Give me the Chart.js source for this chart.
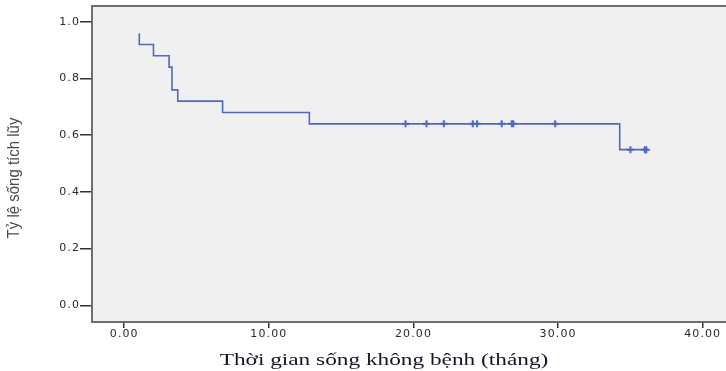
<!DOCTYPE html>
<html>
<head>
<meta charset="utf-8">
<script src="https://cdn.jsdelivr.net/npm/chart.js@4.4.1/dist/chart.umd.min.js"></script>
<style>
  html, body { margin: 0; padding: 0; background: #ffffff; overflow: hidden; }
  #c { display: block; }
</style>
</head>
<body>
<canvas id="c" width="726" height="371"></canvas>
<script>
// Kaplan-Meier step curve (event times, survival after each step)
const eventTimes = [1.04, 1.04, 2.02, 3.10, 3.30, 3.70, 6.80, 12.80, 34.26, 36.10];
const survival   = [0.96, 0.92, 0.88, 0.84, 0.76, 0.72, 0.68, 0.64, 0.549, 0.549];
// Censored observations
const censorTimes    = [19.45, 20.9, 22.1, 24.1, 24.4, 26.1, 26.8, 26.9, 29.8, 35.0, 36.0, 36.1];
const censorSurvival = [0.64, 0.64, 0.64, 0.64, 0.64, 0.64, 0.64, 0.64, 0.64, 0.549, 0.549, 0.549];
// Axis ticks and titles
const xTicks = [0, 10, 20, 30, 40];
const yTicks = [0, 0.2, 0.4, 0.6, 0.8, 1.0];
const xTitle = "Thời gian sống không bệnh (tháng)";
const yTitle = "Tỷ lệ sống tích lũy";

const lineColor = '#5068bd';
const axisColor = '#6e6e6e';

const framePlugin = {
  id: 'frame',
  beforeDraw(chart) {
    const { ctx, chartArea: a } = chart;
    ctx.save();
    ctx.fillStyle = '#f0f0f0';
    ctx.fillRect(a.left, a.top, a.right - a.left, a.bottom - a.top);
    ctx.strokeStyle = axisColor;
    ctx.lineWidth = 2;
    ctx.beginPath();
    ctx.moveTo(a.left, a.top);
    ctx.lineTo(a.right, a.top);
    ctx.stroke();
    ctx.restore();
    ctx.letterSpacing = '1.1px';
  },
  afterDraw(chart) {
    const { ctx } = chart;
    ctx.letterSpacing = '0px';
    // x title (serif, stretched like the original export)
    ctx.save();
    ctx.font = '17px "Liberation Serif", "Times New Roman", serif';
    ctx.fillStyle = '#15152a';
    ctx.textAlign = 'center';
    ctx.textBaseline = 'alphabetic';
    ctx.translate(384, 365);
    ctx.scale(1.37, 1);
    ctx.fillText(xTitle, 0, 0);
    ctx.restore();
    // y title (rotated)
    ctx.save();
    ctx.font = '15px "Liberation Sans Narrow", "Arial Narrow", "Liberation Sans", sans-serif';
    ctx.fillStyle = '#4a4a4a';
    ctx.textAlign = 'center';
    ctx.textBaseline = 'middle';
    ctx.translate(14, 178);
    ctx.scale(1.15, 1);
    ctx.rotate(-Math.PI / 2);
    ctx.fillText(yTitle, 0, 0);
    ctx.restore();
  }
};

new Chart(document.getElementById('c'), {
  type: 'scatter',
  data: {
    datasets: [
      {
        type: 'line',
        data: eventTimes.map((t, i) => ({ x: t, y: survival[i] })),
        borderColor: lineColor,
        borderWidth: 1.6,
        stepped: 'before',
        pointRadius: 0,
        fill: false,
        order: 2
      },
      {
        type: 'scatter',
        data: censorTimes.map((t, i) => ({ x: t, y: censorSurvival[i] })),
        pointStyle: 'cross',
        pointRadius: 3.5,
        borderColor: lineColor,
        backgroundColor: lineColor,
        borderWidth: 2,
        order: 1
      }
    ]
  },
  options: {
    responsive: false,
    animation: false,
    layout: { autoPadding: false, padding: { top: 6, right: 0, bottom: 0, left: 0 } },
    plugins: { legend: { display: false }, tooltip: { enabled: false } },
    scales: {
      x: {
        type: 'linear',
        min: -2.23,
        max: 41.61,
        afterBuildTicks: s => { s.ticks = xTicks.map(v => ({ value: v })); },
        afterFit: s => { s.height = 49; s.paddingRight = 0; s.paddingLeft = 0; },
        ticks: {
          callback: v => Number(v).toFixed(2),
          font: { family: '"DejaVu Sans", Verdana, sans-serif', size: 11 },
          color: '#2a2a2a',
          padding: 0,
          maxRotation: 0,
          autoSkip: false
        },
        grid: { drawOnChartArea: false, drawTicks: true, tickLength: 6, color: '#333333', lineWidth: 1.5 },
        border: { display: true, color: axisColor, width: 2 }
      },
      y: {
        type: 'linear',
        min: -0.059,
        max: 1.0557,
        afterBuildTicks: s => { s.ticks = yTicks.map(v => ({ value: v })); },
        afterFit: s => { s.width = 92; s.paddingTop = 0; s.paddingBottom = 0; },
        ticks: {
          callback: v => Number(v).toFixed(1),
          font: { family: '"DejaVu Sans", Verdana, sans-serif', size: 11 },
          color: '#2a2a2a',
          padding: 0,
          autoSkip: false
        },
        grid: { drawOnChartArea: false, drawTicks: true, tickLength: 12, color: '#333333', lineWidth: 1.5 },
        border: { display: true, color: axisColor, width: 2 }
      }
    }
  },
  plugins: [framePlugin]
});
</script>
</body>
</html>
